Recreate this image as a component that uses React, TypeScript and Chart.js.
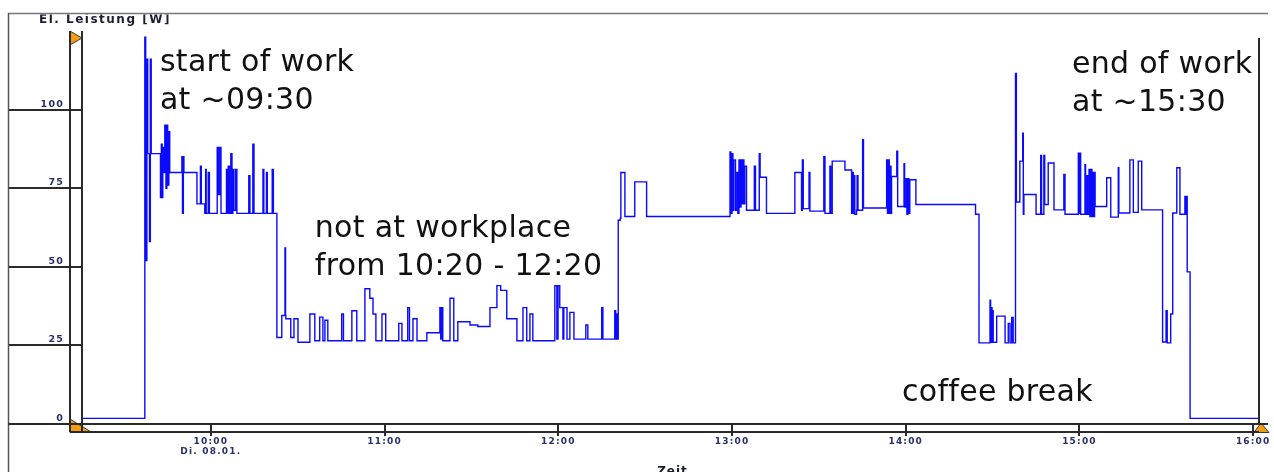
import React, { useEffect, useRef } from "react";
import { Chart, registerables } from "chart.js";

Chart.register(...registerables);

// time of day in minutes after midnight (step starts), and power in W
const timeMin = [
  555.5, 577.2, 577.5, 577.9, 578.2, 578.8, 579.1, 579.4,
  582.6, 582.9, 583.2, 583.4, 583.8, 584.1, 584.5, 584.8, 585.1, 585.5, 585.8,
  590.0, 590.2, 590.5, 590.7, 595.2, 596.4, 596.7, 597.9, 598.2, 598.4, 599.1, 599.5,
  602.2, 602.6, 603.1, 603.5, 605.4, 605.7, 606.0, 606.4, 606.9, 607.3, 607.6, 607.9, 608.5, 609.0,
  613.1, 613.5, 614.5, 614.9, 618.0, 618.3, 619.2, 619.5, 621.2, 621.6,
  622.8, 624.5, 625.6, 625.8, 625.9, 627.6, 628.7, 630.1, 634.2, 635.9, 637.6, 638.7, 639.4, 640.4,
  645.2, 645.8, 648.7, 650.4, 653.2, 654.9, 656.0, 657.0, 659.1, 660.4, 664.9, 666.0, 668.0, 668.6, 669.8, 671.2,
  674.6, 679.1, 679.4, 679.8, 680.1, 682.6, 683.9, 685.3, 689.5, 692.2, 696.4, 698.8, 700.1, 702.2, 705.7,
  707.8, 709.1, 710.2, 711.2, 718.8, 719.5, 719.9, 720.5, 721.6, 721.9, 723.0, 724.0, 725.4, 729.5, 730.2, 735.0, 735.4,
  739.5, 739.8, 740.1, 740.3, 740.7, 741.4, 741.6, 743.0, 746.4, 750.5,
  779.3, 779.6, 780.0, 780.3, 780.6, 781.2, 781.7, 782.0, 782.4, 782.7, 783.1, 783.4, 783.8, 784.1, 784.4, 785.0,
  787.7, 788.1, 789.4, 789.7, 791.9, 801.7, 804.0, 804.3, 804.6, 806.6, 806.9,
  811.7, 812.1, 813.8, 814.1, 814.6, 819.0, 821.3, 821.6, 821.9, 822.2, 822.4, 823.0, 823.2, 823.5, 825.1, 825.4,
  833.4, 833.7, 833.9, 834.3, 834.5, 834.9, 835.1, 836.9, 837.2, 839.4, 839.6, 840.1, 840.4, 840.7, 841.1, 841.4, 843.5,
  864.1, 865.3, 869.1, 869.3, 869.5, 869.8, 870.0, 870.2, 871.4, 874.3, 875.4, 876.0, 876.6, 877.1,
  877.9, 878.2, 879.4, 880.4, 880.6, 880.8, 885.0, 886.6, 886.9, 887.7, 888.0, 889.2, 891.2, 894.6, 895.0,
  899.6, 899.8, 900.1, 900.4, 901.9, 902.1, 902.6, 902.8, 903.3, 903.6, 904.0, 904.3, 904.6, 905.0, 905.2, 905.4,
  909.4, 910.8, 913.4, 913.6, 917.4, 918.6, 920.3, 921.5,
  928.7, 929.9, 930.3, 931.5, 932.2, 933.6, 934.7, 936.4, 936.7, 936.9, 937.2, 938.2, 962,
];

const powerW = [
  1.8, 123, 52, 116, 86, 58, 116, 86,
  72, 89, 72, 88, 80, 95, 75, 95, 76, 93, 80,
  85, 67, 85, 80, 70, 82, 70, 67, 81, 67, 80, 67,
  88, 73, 88, 67, 81, 67, 82, 67, 86, 67, 81, 68, 81, 67,
  79, 67, 89, 67, 81, 67, 80, 67, 81, 67,
  27.5, 34.5, 56, 34.5, 33.5, 27.5, 33.5, 26, 35, 26.5, 34, 26.5, 33, 26.5,
  35, 26.5, 36, 26.5, 43, 40, 35, 26.5, 35, 26.5, 32, 26.5, 37, 26.5, 33.5, 26.5,
  29, 37, 27, 37, 26.5, 40, 26.5, 32.5, 31.5, 31, 37, 44, 42.5, 33.5, 26.5,
  37, 26.5, 35, 26.5, 44, 27, 44, 37, 27, 37, 27, 35.5, 27, 31.5, 27, 37, 27,
  36, 27, 35, 27, 64.8, 65.4, 80, 66, 77, 66,
  86.5, 67, 86, 68, 84, 68, 80, 67, 84, 69, 84, 70, 84, 70, 82, 68,
  82, 68, 86, 78.5, 67, 80, 68, 84, 68.5, 80, 67.7,
  85, 67, 82, 67, 83.6, 80.8, 67, 80, 67, 79, 66.7, 68, 79, 68, 90.4, 68.7,
  84, 67, 84, 67, 82, 67, 78.7, 86.8, 69.2, 82.8, 69, 78, 66.7, 78, 67, 77.7, 69.8,
  66.7, 25.8, 39.4, 26, 37, 26, 36, 26, 34.3, 25.8, 32, 25.8, 33.9, 25.8,
  111.5, 70.6, 83.6, 92.5, 66.7, 73, 66.7, 85.4, 66.7, 85.4, 69.8, 83, 68.1, 79.4, 66.7,
  86.1, 67, 86.1, 66.7, 82.5, 66.7, 79, 66.7, 81, 66, 81, 66, 80, 66, 80, 69.2,
  78.3, 65.8, 81.5, 67.1, 84, 67.3, 83.6, 68.1,
  26.1, 36, 25.8, 35, 67.1, 81.5, 66.7, 72.4, 66.7, 72.4, 48.4, 1.8, 1.8,
];

const hourTicks = [600, 660, 720, 780, 840, 900, 960];
const hourLabels = ["10:00", "11:00", "12:00", "13:00", "14:00", "15:00", "16:00"];
const dateLabel = "Di. 08.01.";
const yTicks = [0, 25, 50, 75, 100];
const yTitle = "El. Leistung [W]";
const xTitle = "Zeit";
const noteTexts = [
  ["start of work", "at ~09:30"],
  ["not at workplace", "from 10:20 - 12:20"],
  ["end of work", "at ~15:30"],
  ["coffee break"],
];
// anchor of each note (time in minutes, W) - layout only
const noteAnchors = [
  { t: 582.4, w: 112.4 },
  { t: 635.9, w: 59.5 },
  { t: 897.4, w: 111.6 },
  { t: 838.7, w: 7.3 },
];

const TICK_FONT = "'DejaVu Sans', sans-serif";
const TICK_COLOR = "#28306a";
const LINE_COLOR = "#2a2a2a";

function poly(ctx: CanvasRenderingContext2D, pts: number[][]) {
  ctx.beginPath();
  ctx.moveTo(pts[0][0], pts[0][1]);
  for (let i = 1; i < pts.length; i++) ctx.lineTo(pts[i][0], pts[i][1]);
  ctx.closePath();
  ctx.fill();
  ctx.stroke();
}

function seg(ctx: CanvasRenderingContext2D, x1: number, y1: number, x2: number, y2: number, color: string, w: number) {
  ctx.beginPath();
  ctx.strokeStyle = color;
  ctx.lineWidth = w;
  ctx.moveTo(x1, y1);
  ctx.lineTo(x2, y2);
  ctx.stroke();
}

const decorPlugin = {
  id: "decor",
  beforeDraw(chart: any) {
    chart.ctx.letterSpacing = "1.2px";
  },
  beforeDatasetsDraw(chart: any) {
    chart.ctx.letterSpacing = "0px";
  },
  afterDraw(chart: any) {
    const ctx = chart.ctx as CanvasRenderingContext2D & { letterSpacing: string };
    const { left, right, top, bottom } = chart.chartArea;
    const xs = chart.scales.x;
    const ys = chart.scales.y;
    ctx.save();
    ctx.letterSpacing = "0px";

    // orange markers
    ctx.fillStyle = "#f39c12";
    ctx.strokeStyle = "#3a3a3a";
    ctx.lineWidth = 1;
    poly(ctx, [[left - 12, top], [left, top + 7], [left - 12, top + 14]]);
    poly(ctx, [[left - 12, bottom - 5], [left + 10, bottom + 8.5], [left - 12, bottom + 8.5]]);
    poly(ctx, [[right - 5, bottom + 8.5], [right + 2, bottom - 1], [right + 10, bottom + 8.5]]);

    // frame lines
    seg(ctx, 8, 13.5, 1268, 13.5, "#777", 1.5);
    seg(ctx, 8.5, 13, 8.5, 472, "#555", 1.5);
    seg(ctx, left - 12, top, left - 12, bottom + 8, LINE_COLOR, 2);
    seg(ctx, left, top, left, bottom + 8, LINE_COLOR, 2);
    seg(ctx, 8, bottom, 1268, bottom, LINE_COLOR, 2);
    seg(ctx, left - 12, bottom + 8, right, bottom + 8, LINE_COLOR, 2);
    seg(ctx, right, top + 7, right, bottom, LINE_COLOR, 2);

    // axis titles
    ctx.save();
    ctx.beginPath();
    ctx.rect(0, 14.5, 600, 40);
    ctx.clip();
    ctx.font = "bold 12px 'DejaVu Sans', sans-serif";
    ctx.letterSpacing = "1.5px";
    ctx.fillStyle = "#1d1d33";
    ctx.textAlign = "left";
    ctx.textBaseline = "alphabetic";
    ctx.fillText(yTitle, 39, 23);
    ctx.restore();

    ctx.font = "bold 12px 'DejaVu Sans', sans-serif";
    ctx.letterSpacing = "1px";
    ctx.fillStyle = "#1d1d33";
    ctx.textAlign = "center";
    ctx.textBaseline = "alphabetic";
    ctx.fillText(xTitle, (left + right) / 2 + 2, 475);

    // annotations
    ctx.letterSpacing = "0.3px";
    ctx.font = "30px 'DejaVu Sans', sans-serif";
    ctx.fillStyle = "#111";
    ctx.textAlign = "left";
    noteTexts.forEach((lines, i) => {
      const a = noteAnchors[i];
      const x = xs.getPixelForValue(a.t);
      const y = ys.getPixelForValue(a.w);
      lines.forEach((s, k) => ctx.fillText(s, x, y + k * 38));
    });
    ctx.restore();
  },
};

export default function App() {
  const ref = useRef<HTMLCanvasElement>(null);
  useEffect(() => {
    const canvas = ref.current;
    if (!canvas) return;
    const points = timeMin.map((t, i) => ({ x: t, y: powerW[i] }));
    const chart = new Chart(canvas, {
      type: "line",
      data: {
        datasets: [
          {
            data: points,
            stepped: true,
            borderColor: "#0a0aff",
            borderWidth: 1.4,
            pointRadius: 0,
            fill: false,
          },
        ],
      },
      options: {
        animation: false,
        responsive: false,
        devicePixelRatio: 1,
        events: [],
        layout: { padding: { left: 8, top: 31, right: 15, bottom: 0 } },
        plugins: {
          legend: { display: false },
          tooltip: { enabled: false },
          title: { display: false },
        },
        scales: {
          x: {
            type: "linear",
            min: 555.5,
            max: 962,
            afterBuildTicks: (s: any) => {
              s.ticks = hourTicks.map((v) => ({ value: v }));
            },
            afterFit: (s: any) => {
              s.height = 48;
            },
            grid: { drawOnChartArea: false, drawTicks: true, tickLength: 12, color: LINE_COLOR, lineWidth: 2 },
            border: { display: false },
            ticks: {
              autoSkip: false,
              maxRotation: 0,
              minRotation: 0,
              padding: 1,
              color: TICK_COLOR,
              font: { family: TICK_FONT, size: 9, weight: "bold", lineHeight: 1.12 },
              callback: (v: any) => {
                const i = hourTicks.indexOf(Number(v));
                if (i === 0) return [hourLabels[0], dateLabel];
                return i >= 0 ? hourLabels[i] : "";
              },
            },
          },
          y: {
            type: "linear",
            min: 0,
            max: 125,
            afterBuildTicks: (s: any) => {
              s.ticks = yTicks.map((v) => ({ value: v }));
            },
            afterFit: (s: any) => {
              s.width = 74;
            },
            grid: { drawOnChartArea: false, drawTicks: true, tickLength: 74, color: LINE_COLOR, lineWidth: 2 },
            border: { display: false },
            ticks: {
              padding: -56,
              labelOffset: -5.5,
              color: TICK_COLOR,
              font: { family: TICK_FONT, size: 9.5, weight: "bold" },
              callback: (v: any) => String(v),
            },
          },
        },
      },
      plugins: [decorPlugin],
    } as any);
    return () => chart.destroy();
  }, []);
  return (
    <div style={{ position: "absolute", left: 0, top: 0, width: 1274, height: 472, background: "#fff" }}>
      <canvas ref={ref} width={1274} height={472} style={{ display: "block" }} />
    </div>
  );
}
